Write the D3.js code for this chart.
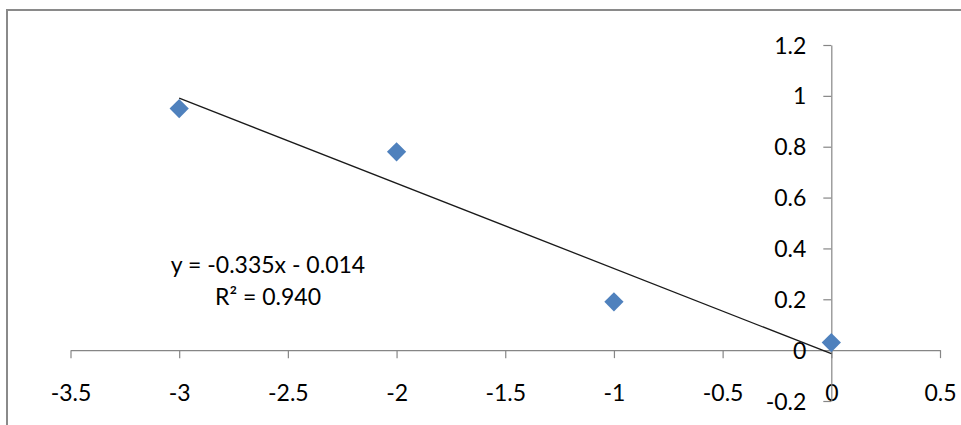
<!DOCTYPE html>
<html>
<head>
<meta charset="utf-8">
<script src="https://cdn.jsdelivr.net/npm/d3@7"></script>
<style>
  html, body { margin: 0; padding: 0; background: #fff; }
  svg { display: block; }
  text { font-family: Lato, "Open Sans", sans-serif; fill: #000; }
</style>
</head>
<body>
<svg id="chart" width="961" height="425"></svg>
<script>
// ---- data ----
const xValues = [-3, -2, -1, 0];
const yValues = [0.95, 0.78, 0.19, 0.03];
const xTicks = [-3.5, -3, -2.5, -2, -1.5, -1, -0.5, 0, 0.5];
const yTicks = [-0.2, 0, 0.2, 0.4, 0.6, 0.8, 1, 1.2];
const trendSlope = [-0.335];
const trendIntercept = [-0.014];
const trendRange = [-3, 0];
const equationLines = ["y = -0.335x - 0.014", "R² = 0.940"];

// ---- layout ----
const svg = d3.select("#chart");
const axisColor = "#868686";
const fontSize = "23px";

svg.append("rect")
  .attr("x", 7).attr("y", 10)
  .attr("width", 1000).attr("height", 500)
  .attr("fill", "none")
  .attr("stroke", "#8a8a8a")
  .attr("stroke-width", 2);

const x = d3.scaleLinear().domain([-3.5, 0.5]).range([70.5, 940]);
const y = d3.scaleLinear().domain([-0.2, 1.2]).range([401, 45]);

const fmt = d => String(+(+d).toFixed(1));

// X axis at y = 0
const gx = svg.append("g")
  .attr("transform", `translate(0,${y(0)})`)
  .call(d3.axisBottom(x).tickValues(xTicks).tickFormat(fmt).tickSizeInner(8).tickSizeOuter(0));
gx.selectAll("text").attr("y", 51).attr("dy", 0).style("font-size", fontSize);

// Y axis at x = 0
const gy = svg.append("g")
  .attr("transform", `translate(${x(0)},0)`)
  .call(d3.axisLeft(y).tickValues(yTicks).tickFormat(fmt).tickSizeInner(8).tickSizeOuter(0));
gy.selectAll("text").attr("x", -25).attr("dy", 0).attr("y", 8).style("font-size", fontSize);

[gx, gy].forEach(g => {
  g.selectAll("path.domain").attr("stroke", axisColor).attr("stroke-width", 1.2);
  g.selectAll(".tick line").attr("stroke", axisColor).attr("stroke-width", 1.2);
  g.attr("font-family", null).attr("font-size", null);
});

// Trendline
const trend = trendRange.map(v => ({ x: v, y: trendSlope[0] * v + trendIntercept[0] }));
svg.append("path")
  .datum(trend)
  .attr("d", d3.line().x(d => x(d.x)).y(d => y(d.y)))
  .attr("fill", "none")
  .attr("stroke", "#1a1a1a")
  .attr("stroke-width", 1.3);

// Points (diamonds)
const pts = xValues.map((v, i) => ({ x: v, y: yValues[i] }));
const diamond = d3.symbol().type(d3.symbolSquare).size(185);
svg.append("g").selectAll("path")
  .data(pts)
  .join("path")
  .attr("d", diamond)
  .attr("transform", d => `translate(${x(d.x)},${y(d.y)}) rotate(45)`)
  .attr("fill", "#4F81BD");

// Equation label
const eq = svg.append("text")
  .attr("text-anchor", "middle")
  .style("font-size", fontSize);
eq.selectAll("tspan")
  .data(equationLines)
  .join("tspan")
  .attr("x", 268)
  .attr("y", (d, i) => 273 + i * 32)
  .text(d => d);
</script>
</body>
</html>
